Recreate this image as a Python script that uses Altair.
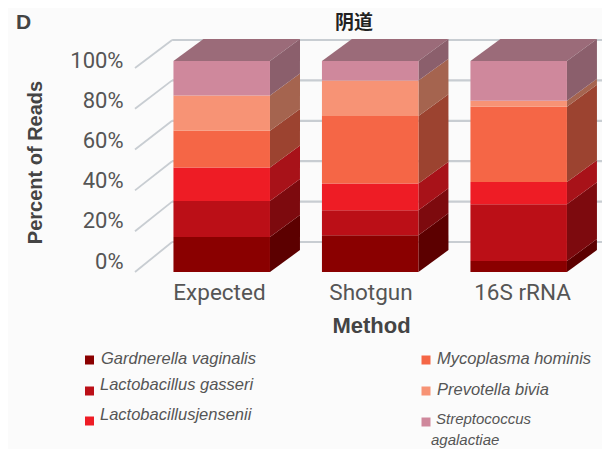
import altair as alt
import pandas as pd

methods = ["Expected", "Shotgun", "16S rRNA"]
species = ["Gardnerella vaginalis", "Lactobacillus gasseri", "Lactobacillusjensenii",
           "Mycoplasma hominis", "Prevotella bivia", "Streptococcus agalactiae"]
expected = [16.6, 17.1, 15.8, 17.4, 16.8, 16.3]
shotgun = [17.4, 11.9, 12.6, 32.0, 16.8, 9.3]
rrna = [5.2, 26.9, 10.5, 35.7, 2.9, 18.8]
series = [expected, shotgun, rrna]

front_colors = ["#8a0000", "#bb0f17", "#ee1c25", "#f56646", "#f79375", "#cf889c"]
side_colors = ["#5c0000", "#7d0a0e", "#a81219", "#9c4330", "#a5644f", "#8b5f6c"]
top_color = "#9b6b79"
ticks = [0, 20, 40, 60, 80, 100]

# style / layout
HALF, DX, DY = 0.325, 0.202, 10.4
W, H = 467, 234
X0, Y0 = 135, 272  # page position of the plot's lower-left corner
BX = [-0.584, 2.561]
BY = [0, 110.9]
TEXT = "#555555"
SANS = "Liberation Sans"


def X(f):
    return alt.X(f, type="quantitative", scale=alt.Scale(domain=BX, nice=False, zero=False), axis=None)


def Y(f):
    return alt.Y(f, type="quantitative", scale=alt.Scale(domain=BY, nice=False, zero=False), axis=None, stack=None)


fronts, sides, tops = [], [], []
for i, vals in enumerate(series):
    low = 0.0
    l, r = i - HALF, i + HALF
    for j, v in enumerate(vals):
        hi = low + v
        fronts.append(dict(x=l, x2=r, y=low, y2=hi, color=front_colors[j]))
        sides.append(dict(id=f"{i}-{j}", x=r, y=hi, y2=low, color=side_colors[j]))
        sides.append(dict(id=f"{i}-{j}", x=r + DX, y=hi + DY, y2=low + DY, color=side_colors[j]))
        low = hi
    tp = low
    tops += [dict(id=i, x=l, y=tp, y2=tp), dict(id=i, x=l + DX, y=tp + DY, y2=tp),
             dict(id=i, x=r, y=tp + DY, y2=tp), dict(id=i, x=r + DX, y=tp + DY, y2=tp + DY)]

walls, diags = [], []
for t in ticks:
    back = (30 + 2.02 * t) / 2.11
    front = t * 0.967
    walls.append(dict(x=-0.334, x2=BX[1], y=back))
    diags.append(dict(x=-0.584, x2=-0.334, y=front, y2=back))

grid_color = "#c8cdd2"
wall_layer = alt.Chart(pd.DataFrame(walls)).mark_rule(color=grid_color, strokeWidth=2.2).encode(
    x=X("x"), x2="x2", y=Y("y"))
diag_layer = alt.Chart(pd.DataFrame(diags)).mark_rule(color=grid_color, strokeWidth=1.8).encode(
    x=X("x"), x2="x2", y=Y("y"), y2="y2")
top_layer = alt.Chart(pd.DataFrame(tops)).mark_area(color=top_color, opacity=1).encode(
    x=X("x"), y=Y("y"), y2="y2", detail="id:N")
side_layer = alt.Chart(pd.DataFrame(sides)).mark_area(opacity=1).encode(
    x=X("x"), y=Y("y"), y2="y2", detail="id:N",
    color=alt.Color("color:N", scale=None))
front_layer = alt.Chart(pd.DataFrame(fronts)).mark_rect(opacity=1).encode(
    x=X("x"), x2="x2", y=Y("y"), y2="y2",
    color=alt.Color("color:N", scale=None))

# axis carrier: its own scales place the labels like the reference
axis_df = pd.DataFrame({"m": [0, 1, 2], "v": [0, 50, 100]})
axis_layer = alt.Chart(axis_df).mark_point(opacity=0).encode(
    x=alt.X("m:Q", scale=alt.Scale(domain=[-0.554, 2.528], nice=False, zero=False),
            axis=alt.Axis(values=[0, 1, 2], labelExpr="['%s','%s','%s'][datum.value]" % tuple(methods),
                          title="Method", titleFont=SANS, titleFontSize=22, titleFontWeight="bold",
                          titleColor="#444444", titleX=236, titleY=53, titleBaseline="middle",
                          labelFont="Roboto", labelFontSize=22.5, labelColor=TEXT, labelPadding=20,
                          labelBaseline="middle", grid=False, ticks=False, domain=False, labelOverlap=False,
                          labelFlush=False)),
    y=alt.Y("v:Q", scale=alt.Scale(domain=[-5.47, 110.95], nice=False, zero=False),
            axis=alt.Axis(values=ticks, labelExpr="datum.value + '%'", title="Percent of Reads",
                          titleFont=SANS, titleFontSize=20, titleFontWeight="bold", titleColor="#444444",
                          titleX=-100, titleY=124, titleAlign="center", titleBaseline="middle",
                          labelFont="Roboto", labelFontSize=22, labelColor=TEXT, labelPadding=12,
                          grid=False, ticks=False, domain=False, labelOverlap=False, labelFlush=False)),
)

one = pd.DataFrame({"a": [0]})


def text(s, px, py, size=16.5, style="italic", weight="normal", color=TEXT, font=SANS):
    return alt.Chart(one).mark_text(text=s, align="left", baseline="middle", fontSize=size, fontStyle=style,
                                    fontWeight=weight, color=color, font=font).encode(
        x=alt.value(px - X0), y=alt.value(py - Y0 + H))


def square(px, py, c):
    return alt.Chart(one).mark_square(size=81, color=c, opacity=1).encode(
        x=alt.value(px - X0), y=alt.value(py - Y0 + H))


legend = [
    square(89.5, 360, front_colors[0]), text(species[0], 101, 359),
    square(89.5, 391, front_colors[1]), text(species[1], 100, 385),
    square(89.5, 421, front_colors[2]), text(species[2], 100, 415),
    square(426, 360, front_colors[3]), text(species[3], 437, 359),
    square(426, 391, front_colors[4]), text(species[4], 437, 390),
    square(426, 422, front_colors[5]), text("Streptococcus", 436, 419, size=15), text("agalactiae", 431, 440, size=15),
    text("D", 16, 23, size=21, style="normal", weight="bold", color="#444444"),
    text("阴道", 335, 23, size=19, style="normal", weight="bold", color="#222222", font="Noto Sans CJK SC"),
]

chart = alt.layer(wall_layer, diag_layer, top_layer, side_layer, front_layer, axis_layer, *legend).resolve_scale(
    x="independent", y="independent", color="independent"
).properties(
    width=W, height=H,
    padding={"left": X0 - 8, "top": Y0 - H - 8, "right": 0, "bottom": 441 - (Y0 - 8)},
    autosize=alt.AutoSizeParams(type="none"),
    background="#fbfbfb",
).configure_view(stroke=None)

chart.save("out.html", embed_options={"renderer": "svg", "actions": False})
